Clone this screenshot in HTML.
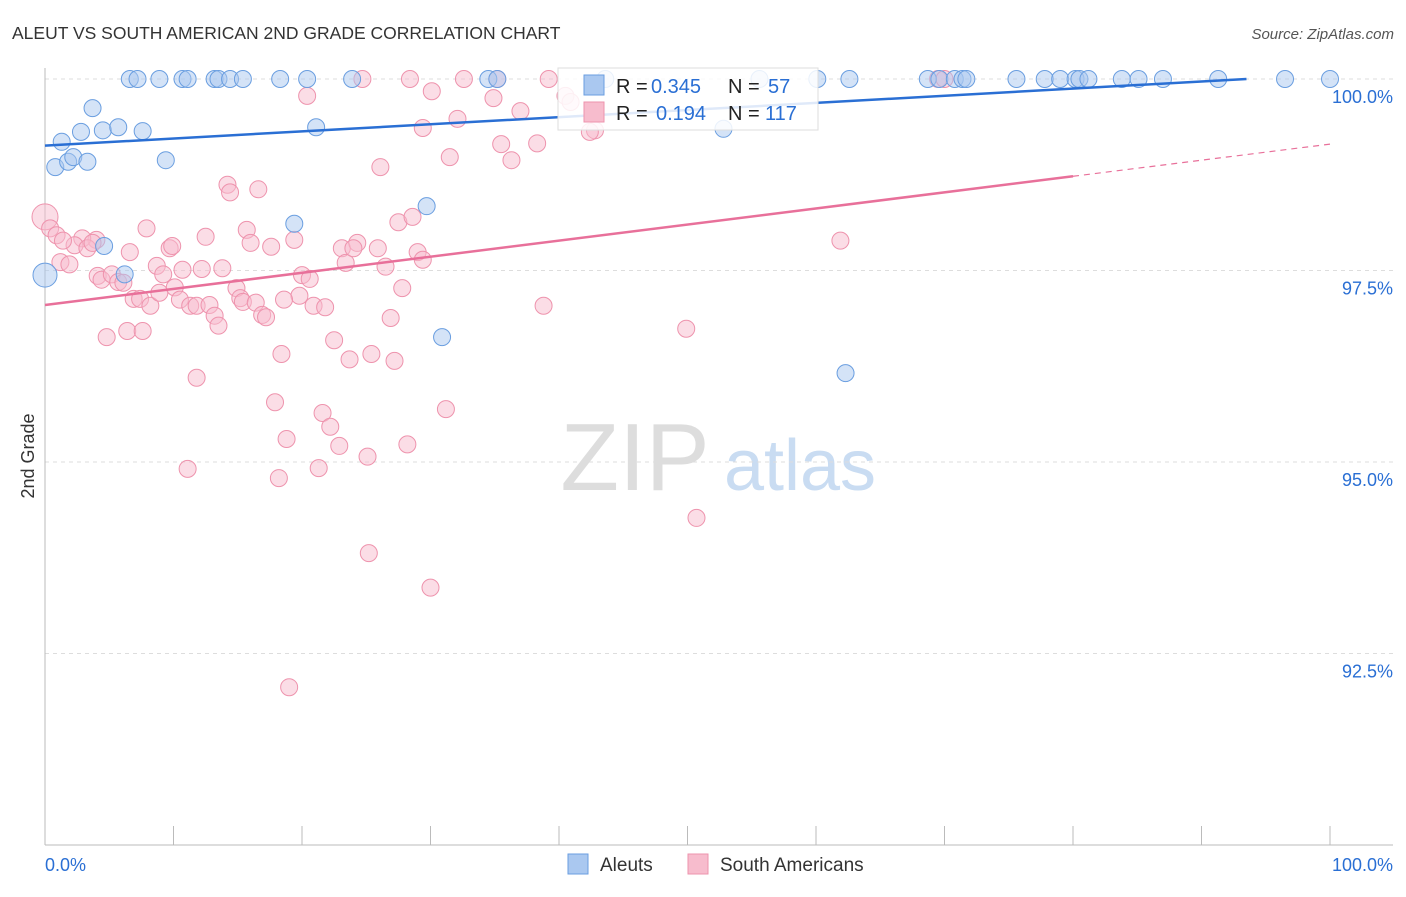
<!DOCTYPE html>
<html><head><meta charset="utf-8"><style>
body{margin:0;background:#fff;font-family:"Liberation Sans",sans-serif}
svg text{font-family:"Liberation Sans",sans-serif}
</style></head><body>
<svg id="c" width="1406" height="892" xmlns="http://www.w3.org/2000/svg">
<text x="12" y="39" font-size="17.5" fill="#333">ALEUT VS SOUTH AMERICAN 2ND GRADE CORRELATION CHART</text>
<text x="1394" y="39" font-size="15" fill="#555" text-anchor="end" font-style="italic">Source: ZipAtlas.com</text>
<text x="34" y="456" font-size="18" fill="#333" text-anchor="middle" transform="rotate(-90 34 456)">2nd Grade</text>
<g><text x="635" y="490" font-size="96" fill="#ddd" font-family="Liberation Serif" text-anchor="middle">ZIP</text><text x="800" y="490" font-size="72" fill="#c9dcf2" text-anchor="middle">atlas</text></g>
<g id="grid"></g><g id="axes"></g><g id="pink"></g><g id="blue"></g><g id="trend"></g>
<g>
<rect x="558" y="68" width="260" height="62" fill="#fff" fill-opacity="0.85" stroke="#ddd"/>
<rect x="584" y="75" width="20" height="20" fill="#aac8f0" stroke="#6a9ee0"/>
<rect x="584" y="102" width="20" height="20" fill="#f7bccd" stroke="#ee93ad"/>
<text x="616" y="93" font-size="20" fill="#222">R =</text><text x="651" y="93" font-size="20" fill="#2a6fd4">0.345</text>
<text x="728" y="93" font-size="20" fill="#222">N =</text><text x="768" y="93" font-size="20" fill="#2a6fd4">57</text>
<text x="616" y="120" font-size="20" fill="#222">R =</text><text x="656" y="120" font-size="20" fill="#2a6fd4">0.194</text>
<text x="728" y="120" font-size="20" fill="#222">N =</text><text x="765" y="120" font-size="20" fill="#2a6fd4">117</text>
</g>
<g>
<rect x="568" y="854" width="20" height="20" fill="#aac8f0" stroke="#6a9ee0"/>
<text x="600" y="871" font-size="19" fill="#333">Aleuts</text>
<rect x="688" y="854" width="20" height="20" fill="#f7bccd" stroke="#ee93ad"/>
<text x="720" y="871" font-size="19" fill="#333">South Americans</text>
</g>
</svg>
<script>
const blueX=[6.6,7.2,8.9,10.7,11.1,13.2,13.5,14.4,15.4,18.3,20.4,23.9,34.5,35.2,43.6,55.6,60.1,62.6,68.7,69.6,70.8,71.4,71.7,75.6,77.8,79.0,80.2,80.5,81.2,83.8,85.1,87.0,91.3,96.5,100,0.8,1.3,1.8,2.2,2.8,3.3,3.7,4.5,5.7,7.6,9.4,4.6,6.2,0,19.4,21.1,29.7,30.9,52.8,62.3];
const blueY=[100,100,100,100,100,100,100,100,100,100,100,100,100,100,100,100,100,100,100,100,100,100,100,100,100,100,100,100,100,100,100,100,100,100,100,98.85,99.18,98.92,98.98,99.31,98.92,99.62,99.33,99.37,99.32,98.94,97.82,97.45,97.44,98.11,99.37,98.34,96.63,99.35,96.16];
const pinkX=[24.7,28.4,32.6,35.2,39.2,69.5,70.0,20.4,30.1,32.1,34.9,40.5,40.9,37.0,42.8,29.4,26.1,31.5,35.5,36.3,38.3,14.2,14.4,16.6,7.9,12.5,15.7,16.0,17.6,19.4,9.7,9.9,6.6,4.0,2.9,2.3,3.3,3.7,0,0.4,0.9,1.4,1.2,1.9,8.7,9.2,10.7,12.2,13.8,4.1,4.4,5.2,5.7,6.1,6.9,7.4,8.2,8.9,10.1,10.5,11.3,11.8,12.8,13.2,13.5,14.9,15.2,15.4,16.4,16.9,17.2,19.8,20.0,20.6,20.9,21.8,23.1,23.4,24.3,24.0,25.9,26.5,27.8,26.9,27.5,28.6,29.0,29.4,22.5,23.7,25.4,27.2,18.4,18.6,4.8,6.4,7.6,11.8,17.9,21.6,22.2,22.9,25.1,28.2,31.2,18.8,11.1,18.2,21.3,25.2,30.0,19.0,38.8,49.9,61.9,50.7,42.4];
const pinkY=[100,100,100,100,100,100,100,99.78,99.84,99.48,99.75,99.78,99.70,99.58,99.33,99.36,98.85,98.98,99.15,98.94,99.16,98.62,98.52,98.56,98.05,97.94,98.03,97.86,97.81,97.90,97.79,97.82,97.74,97.90,97.92,97.83,97.79,97.86,98.20,98.05,97.96,97.89,97.61,97.58,97.56,97.45,97.51,97.52,97.53,97.43,97.38,97.45,97.35,97.34,97.13,97.13,97.04,97.21,97.28,97.12,97.04,97.04,97.05,96.91,96.78,97.27,97.14,97.09,97.08,96.92,96.89,97.17,97.44,97.39,97.04,97.02,97.79,97.60,97.86,97.79,97.79,97.55,97.27,96.88,98.13,98.20,97.74,97.64,96.59,96.34,96.41,96.32,96.41,97.12,96.63,96.71,96.71,96.10,95.78,95.64,95.46,95.21,95.07,95.23,95.69,95.30,94.91,94.79,94.92,93.81,93.36,92.06,97.04,96.74,97.89,94.27,99.31];
const yTicks=[100,97.5,95,92.5];
const yTickLabels=["100.0%","97.5%","95.0%","92.5%"];
const X=v=>45+v*12.85, Y=v=>79+(100-v)*76.6;
const NS="http://www.w3.org/2000/svg";
function mk(p,t,a){const e=document.createElementNS(NS,t);for(const k in a)e.setAttribute(k,a[k]);document.getElementById(p).appendChild(e);return e;}
yTicks.forEach((t,i)=>{
 const l=mk('grid','line',{x1:45,x2:1393,y1:Y(t),y2:Y(t),stroke:'#ddd','stroke-dasharray':'4 4'});
 
 
 const tx=mk('grid','text',{x:1393,y:Y(t)+24,'font-size':18,fill:'#2a6fd4','text-anchor':'end'});
 tx.textContent=yTickLabels[i];
 
 
});
let a=mk('axes','line',{x1:45,x2:1393,y1:845,y2:845,stroke:'#bbb'});


a=mk('axes','line',{x1:45,x2:45,y1:68,y2:845,stroke:'#bbb'});


for(let i=0;i<=10;i++){const t=mk('axes','line',{x1:X(i*10),x2:X(i*10),y1:826,y2:845,stroke:'#bbb'});
 
 }
let t=mk('axes','text',{x:45,y:871,'font-size':18,fill:'#2a6fd4'});t.textContent='0.0%';


t=mk('axes','text',{x:1393,y:871,'font-size':18,fill:'#2a6fd4','text-anchor':'end'});t.textContent='100.0%';


pinkX.forEach((x,i)=>{const c=mk('pink','circle',{cx:X(x),cy:Y(pinkY[i]),r:(x===0?13:8.5),fill:'#f7bccd','fill-opacity':0.5,stroke:'#ee93ad','stroke-width':1});
 
 });
blueX.forEach((x,i)=>{const c=mk('blue','circle',{cx:X(x),cy:Y(blueY[i]),r:(x===0?12:8.5),fill:'#aac8f0','fill-opacity':0.5,stroke:'#6a9ee0','stroke-width':1});
 
 });
let l=mk('trend','line',{x1:X(0),y1:Y(99.13),x2:X(93.5),y2:Y(100),stroke:'#2a6fd4','stroke-width':2.5});


l=mk('trend','line',{x1:X(0),y1:Y(97.05),x2:X(80),y2:Y(98.73),stroke:'#e8709a','stroke-width':2.5});


l=mk('trend','line',{x1:X(80),y1:Y(98.73),x2:X(100),y2:Y(99.15),stroke:'#e8709a','stroke-width':1.2,'stroke-dasharray':'6 5'});


</script>
</body></html>
